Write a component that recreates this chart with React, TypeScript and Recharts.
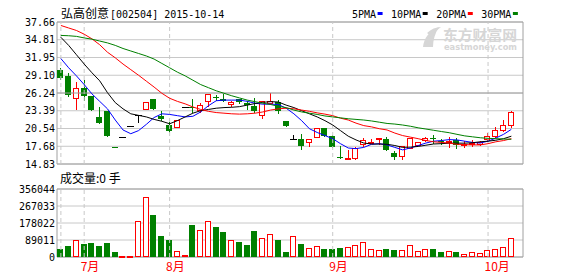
import React from 'react';
import {
  ComposedChart,
  Bar,
  Line,
  XAxis,
  YAxis,
  CartesianGrid,
  ReferenceLine,
  ReferenceArea,
} from 'recharts';

const RED = '#ff0000';
const GREEN = '#008000';
const GRID = '#c8c8c8';
const FRAME = '#a0a0a0';
const MONO = '"DejaVu Sans Mono", monospace';
const CJK = '"Noto Sans CJK SC", sans-serif';

// daily candles, 2015-06 .. 2015-10-13 (59 sessions)
const opens = [
  29.94, 28.99, 25.39, 26.99, 25.71, 22.38, 23.39, 17.52, 19.25, 20.95,
  22.75, 23.63, 25.24, 22.6, 21.16, 20.83, 24.0, 24.05, 23.59, 24.91,
  25.6, 25.2, 24.49, 25.2, 24.63, 24.2, 22.66, 24.6, 24.81, 21.67,
  18.86, 18.86, 18.35, 19.14, 20.54, 19.41, 15.9, 15.74, 15.72, 18.07,
  18.3, 18.9, 18.92, 16.56, 16.13, 17.45, 17.9, 18.69, 18.95, 18.5,
  18.45, 18.7, 18.05, 18.15, 18.0, 18.86, 19.41, 20.25, 21.1,
];
const highs = [
  30.27, 29.44, 28.04, 28.4, 25.8, 23.96, 23.42, 17.52, 19.25, 20.95,
  22.77, 24.8, 25.3, 23.39, 21.55, 21.9, 24.0, 25.3, 24.68, 26.1,
  26.0, 26.1, 25.0, 25.3, 24.91, 25.48, 25.0, 26.2, 25.14, 21.7,
  19.48, 19.7, 18.9, 20.6, 20.6, 19.45, 17.8, 17.13, 17.5, 19.03,
  18.92, 19.03, 19.2, 16.84, 17.75, 19.05, 18.4, 19.15, 19.48, 18.86,
  19.14, 19.03, 18.47, 18.75, 18.5, 19.86, 20.71, 21.94, 23.3,
];
const lows = [
  28.55, 25.8, 23.72, 25.14, 23.5, 21.43, 19.41, 17.5, 19.25, 20.95,
  21.55, 23.6, 23.6, 21.83, 20.04, 20.8, 24.0, 23.2, 23.22, 24.22,
  25.14, 24.91, 24.2, 24.6, 23.72, 23.22, 22.26, 24.5, 23.05, 20.95,
  18.86, 17.23, 17.8, 19.1, 19.41, 17.6, 15.87, 15.72, 15.7, 17.8,
  18.3, 18.07, 17.15, 15.67, 15.67, 17.4, 17.85, 18.6, 18.18, 18.01,
  17.63, 17.45, 17.63, 17.8, 17.9, 18.58, 19.14, 20.15, 20.83,
];
const closes = [
  28.58, 25.86, 26.99, 25.77, 23.58, 21.43, 19.41, 17.5, 19.25, 20.95,
  22.75, 24.77, 23.63, 22.1, 20.15, 21.83, 24.0, 23.95, 24.34, 26.1,
  25.55, 24.91, 24.86, 24.72, 24.34, 23.39, 24.91, 25.0, 23.39, 20.99,
  18.86, 17.8, 18.86, 20.54, 19.41, 17.63, 15.87, 15.78, 17.45, 18.75,
  18.36, 18.95, 17.15, 15.95, 17.73, 19.03, 18.35, 19.03, 18.9, 18.45,
  18.5, 17.9, 18.1, 18.2, 18.3, 19.41, 20.25, 21.16, 23.22,
];
const volumes = [
  42500, 58000, 88500, 69000, 74000, 58000, 74000, 26600, 5000, 5000,
  189000, 312000, 218000, 111000, 90000, 32000, 10600, 170000, 142000, 186000,
  159000, 129000, 88500, 80000, 64000, 138000, 99000, 120000, 90000, 26600,
  110000, 68000, 47000, 56000, 42000, 42000, 47000, 51000, 61000, 77000,
  40000, 35000, 42000, 37000, 35000, 61000, 30000, 40000, 42000, 26000,
  32000, 26000, 14000, 25000, 19000, 37000, 40000, 51000, 98000,
];
const ma5 = [
  31.78, 30.3, 29.0, 27.6, 26.1, 24.9, 23.7, 21.9, 20.3, 19.7,
  20.2, 21.2, 22.3, 22.9, 22.8, 22.6, 22.4, 22.5, 23.2, 24.2,
  25.0, 25.1, 25.1, 25.1, 24.9, 24.6, 24.45, 24.45, 24.4, 23.8,
  22.9, 21.8, 20.5, 19.9, 19.4, 18.9, 18.1, 17.4, 17.3, 17.5,
  18.0, 18.1, 17.9, 17.5, 17.1, 17.4, 17.8, 18.2, 18.5, 18.6,
  18.75, 18.7, 18.5, 18.3, 18.2, 18.5, 19.0, 19.6, 20.4,
];
const ma10 = [
  35.2, 33.9, 32.4, 30.9, 29.5, 28.2, 26.3, 24.7, 23.7, 22.9,
  22.65, 22.4, 22.0, 21.7, 21.3, 21.8, 22.4, 23.0, 23.4, 23.6,
  23.8, 23.9, 23.95, 24.05, 24.3, 24.55, 24.75, 24.85, 24.8, 24.3,
  23.9, 23.4, 22.9, 22.4, 21.8, 21.1, 20.2, 19.3, 18.7, 18.2,
  18.04, 18.04, 18.0, 17.8, 17.5, 17.55, 17.65, 17.85, 18.05, 18.1,
  18.18, 18.18, 18.18, 18.25, 18.4, 18.5, 18.65, 18.9, 19.3,
];
const ma20 = [
  37.1, 36.7, 36.3, 35.7, 34.95, 34.0, 32.8, 31.9, 30.9, 30.0,
  29.1, 28.15, 27.2, 26.2, 25.4, 24.9, 24.5, 24.0, 23.6, 23.3,
  23.1, 23.0, 22.9, 22.85, 22.9, 23.0, 23.2, 23.5, 23.7, 23.8,
  23.7, 23.5, 23.3, 23.05, 22.85, 22.6, 22.2, 21.9, 21.4, 21.0,
  20.8, 20.5, 20.3, 19.8, 19.4, 19.15, 18.9, 18.6, 18.4, 18.3,
  18.18, 18.0, 17.95, 17.9, 17.9, 18.1, 18.4, 18.6, 18.9,
];
const ma30 = [
  35.5, 35.45, 35.35, 35.1, 34.9, 34.6, 34.3, 33.9, 33.4, 33.0,
  32.6, 32.2, 31.7, 31.0, 30.3, 29.6, 29.0, 28.3, 27.6, 27.1,
  26.6, 26.2, 25.8, 25.45, 25.1, 24.85, 24.6, 24.4, 24.1, 23.9,
  23.5, 23.2, 23.0, 22.8, 22.55, 22.4, 22.25, 22.1, 22.0, 21.9,
  21.75, 21.55, 21.35, 21.25, 21.1, 20.9, 20.65, 20.45, 20.25, 20.05,
  19.86, 19.6, 19.35, 19.2, 19.05, 18.95, 18.9, 18.85, 18.8,
];

const priceTicks = [14.83, 17.68, 20.54, 23.39, 26.24, 29.1, 31.95, 34.81, 37.66];
const volTicks = [0, 89011, 178022, 267033, 356044];
// session index where a dashed line is drawn, and month starts
const gridDays = [0, 3, 14, 35, 55];
const monthLabels: Record<number, string> = { 3: '7月', 14: '8月', 35: '9月', 55: '10月' };

const maLines = [
  { key: 'ma5', name: '5PMA', color: '#0000ff' },
  { key: 'ma10', name: '10PMA', color: '#000000' },
  { key: 'ma20', name: '20PMA', color: RED },
  { key: 'ma30', name: '30PMA', color: GREEN },
];

// one spare slot at the end (today's session, not traded yet)
const SLOTS = closes.length + 1;
const rows = Array.from({ length: SLOTS }, (_, i) =>
  i < closes.length
    ? {
        day: i,
        open: opens[i],
        high: highs[i],
        low: lows[i],
        close: closes[i],
        range: [lows[i], highs[i]],
        vol: volumes[i],
        ma5: ma5[i],
        ma10: ma10[i],
        ma20: ma20[i],
        ma30: ma30[i],
      }
    : { day: i }
);

function Candle(props: any) {
  const { x, y, width, height, payload } = props;
  if (!payload || payload.close == null || y == null || isNaN(y)) return null;
  const { open, close, high, low } = payload;
  const c = Math.floor(x + width / 2);
  const k = high > low ? height / (high - low) : 0;
  const py = (v: number) => Math.round(y + (high - v) * k);
  const yHigh = Math.round(y);
  const yLow = Math.round(y + height);
  const top = py(Math.max(open, close));
  const bot = py(Math.min(open, close));
  const wx = c + 0.5;
  if (close > open) {
    return (
      <g>
        <line x1={wx} x2={wx} y1={yHigh} y2={top} stroke={RED} />
        <line x1={wx} x2={wx} y1={bot + 1} y2={yLow + 1} stroke={RED} />
        <rect x={c - 2.5} y={top + 0.5} width={5} height={Math.max(bot - top, 1)} fill="#fff" stroke={RED} />
      </g>
    );
  }
  if (close < open) {
    return (
      <g>
        <line x1={wx} x2={wx} y1={yHigh} y2={yLow + 1} stroke={GREEN} />
        <rect x={c - 3} y={top} width={6} height={Math.max(bot - top, 1)} fill={GREEN} />
      </g>
    );
  }
  return (
    <g>
      <line x1={wx} x2={wx} y1={yHigh} y2={yLow + 1} stroke="#000" />
      <line x1={c - 3} x2={c + 4} y1={top + 0.5} y2={top + 0.5} stroke="#000" />
    </g>
  );
}

function VolBar(props: any) {
  const { x, y, width, height, payload } = props;
  if (!payload || payload.vol == null || y == null || isNaN(y)) return null;
  const c = Math.floor(x + width / 2);
  const top = Math.round(y);
  const base = Math.round(y + height);
  if (payload.close >= payload.open) {
    return <rect x={c - 2.5} y={top + 0.5} width={5} height={Math.max(base - top - 1, 1)} fill="#fff" stroke={RED} />;
  }
  return <rect x={c - 3} y={top} width={6} height={Math.max(base - top, 1)} fill={GREEN} />;
}

function MonthTick(props: any) {
  const { x, y, payload } = props;
  const label = monthLabels[payload.value];
  if (!label) return null;
  return (
    <text x={x - 3.5} y={y + 14} textAnchor="start" fill={RED} fontSize={12} fontFamily={CJK}>
      {label}
    </text>
  );
}

const tickStyle = { fontSize: 10, fontFamily: MONO, fill: '#000' };

function Legend() {
  let cursor = 352;
  return (
    <g>
      {maLines.map((m) => {
        const tx = cursor;
        const rx = tx + m.name.length * 6.02 + 1.5;
        cursor = rx + 5 + 8.5;
        return (
          <g key={m.key}>
            <text x={tx} y={18} fontSize={10} fontFamily={MONO} fill="#000">
              {m.name}
            </text>
            <rect x={rx} y={12} width={5} height={3} fill={m.color} />
          </g>
        );
      })}
    </g>
  );
}

export default function App() {
  return (
    <div style={{ position: 'absolute', left: 0, top: 0, width: 578, height: 276, background: '#fff', overflow: 'hidden' }}>
      <div style={{ position: 'absolute', left: 0, top: 168 }}>
        <ComposedChart width={578} height={108} data={rows} margin={{ top: 21, right: 55, bottom: 0, left: 0 }}>
          <CartesianGrid vertical={false} stroke={GRID} />
          <XAxis
            dataKey="day"
            interval={0}
            height={19}
            axisLine={false}
            tickLine={false}
            tickSize={0}
            tickMargin={0}
            tick={<MonthTick />}
          />
          <YAxis
            domain={[0, 356044]}
            ticks={volTicks}
            interval={0}
            width={57}
            axisLine={false}
            tickLine={false}
            tickSize={0}
            tickMargin={2}
            tick={tickStyle}
          />
          {gridDays.map((d) => (
            <ReferenceLine key={d} x={d} stroke={GRID} strokeDasharray="4 3" />
          ))}
          <ReferenceArea y1={0} y2={356044} fill="none" stroke={FRAME} />
          <Bar dataKey="vol" shape={(p: any) => <VolBar {...p} />} isAnimationActive={false} />
        </ComposedChart>
      </div>
      <div style={{ position: 'absolute', left: 0, top: 0 }}>
        <ComposedChart width={578} height={172} data={rows} margin={{ top: 22, right: 55, bottom: 8, left: 0 }}>
          <CartesianGrid vertical={false} stroke={GRID} />
          <XAxis dataKey="day" hide />
          <YAxis
            domain={[14.83, 37.66]}
            ticks={priceTicks}
            interval={0}
            width={57}
            axisLine={false}
            tickLine={false}
            tickSize={0}
            tickMargin={2}
            tick={tickStyle}
            tickFormatter={(v: number) => v.toFixed(2)}
          />
          {gridDays.map((d) => (
            <ReferenceLine key={d} x={d} stroke={GRID} strokeDasharray="4 3" />
          ))}
          <ReferenceLine y={26.24} stroke={FRAME} />
          <ReferenceArea y1={14.83} y2={37.66} fill="none" stroke={FRAME} />
          <Bar dataKey="range" shape={(p: any) => <Candle {...p} />} isAnimationActive={false} />
          {maLines.map((m) => (
            <Line
              key={m.key}
              dataKey={m.key}
              name={m.name}
              stroke={m.color}
              strokeWidth={1}
              dot={false}
              activeDot={false}
              type="linear"
              isAnimationActive={false}
            />
          ))}
        </ComposedChart>
      </div>
      <svg width={578} height={276} style={{ position: 'absolute', left: 0, top: 0, pointerEvents: 'none' }}>
        <text x={61} y={18} fontSize={12} fontFamily={CJK} fill="#000">
          弘高创意
        </text>
        <text x={110} y={18} fontSize={10} fontFamily={MONO} fill="#000">
          [002504] 2015-10-14
        </text>
        <Legend />
        <g fill="#d6d6d6">
          <path d="M423,47 C424,38 429,31 439,27 C435,33 433,40 433,47 Z" />
          <path d="M427,33 C431,29 436,27 441,27 C437,30 434,33 432,37 Z" />
          <text x={443} y={40} fontSize={14} fontWeight="bold" fontFamily={CJK} textLength={74} lengthAdjust="spacingAndGlyphs">
            东方财富网
          </text>
          <text x={444} y={50} fontSize={8.5} fontWeight="bold" fontFamily='"DejaVu Sans", sans-serif' textLength={73} lengthAdjust="spacingAndGlyphs">
            eastmoney.com
          </text>
        </g>
        <text x={60} y={183} fontSize={12} fontFamily={CJK} fill="#000">
          成交量:0 手
        </text>
      </svg>
    </div>
  );
}
